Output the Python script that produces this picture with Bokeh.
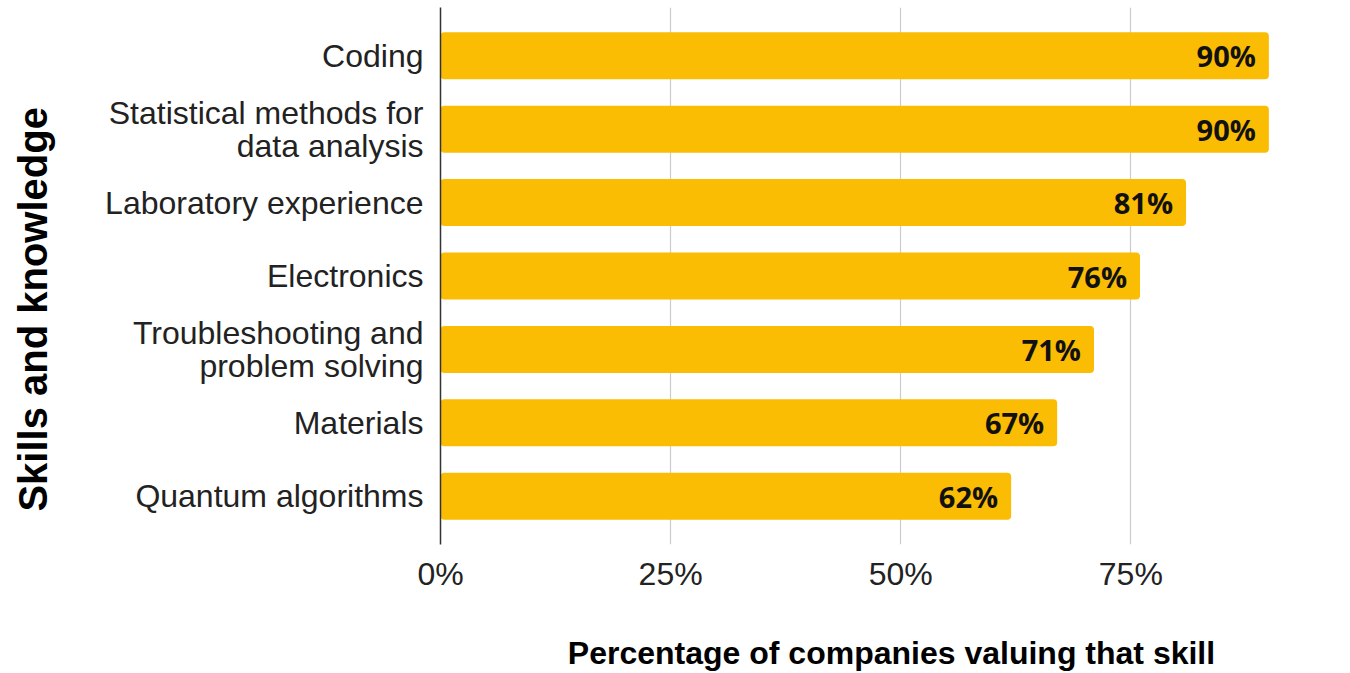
from bokeh.plotting import figure
from bokeh.models import FactorRange, Range1d, FixedTicker, PrintfTickFormatter, ColumnDataSource
from bokeh.core.properties import value
from bokeh.embed import file_html
from bokeh.resources import INLINE

skills = ["Coding", "Statistical methods for\ndata analysis", "Laboratory experience",
          "Electronics", "Troubleshooting and\nproblem solving", "Materials", "Quantum algorithms"]
percent = [90, 90, 81, 76, 71, 67, 62]
x_ticks = [0, 25, 50, 75]

labels = [f"{v}%" for v in percent]
src = ColumnDataSource(dict(skill=skills, pct=percent, label=labels))

p = figure(width=1342, height=673, output_backend="svg", toolbar_location=None,
           y_range=FactorRange(factors=list(reversed(skills)), range_padding=0.0447,
                               range_padding_units="percent"),
           x_range=Range1d(0, 98),
           min_border_left=440, min_border_right=0, min_border_top=7, min_border_bottom=128)
p.outline_line_color = None
p.background_fill_color = "white"
p.border_fill_color = "white"

p.hbar(y="skill", right="pct", left=0, height=0.64, source=src, fill_color="#FBBC04",
       line_color=None, border_radius=4)
p.text(x="pct", y="skill", text="label", source=src, x_offset=-13,
       text_align="right", text_baseline="middle", text_font=value("Open Sans"),
       text_font_style="bold", text_font_size="29px", text_color="#111111")

p.ygrid.grid_line_color = None
p.xgrid.grid_line_color = "#cccccc"
p.xgrid.grid_line_width = 1.2
p.xaxis.ticker = FixedTicker(ticks=x_ticks)
p.xaxis.formatter = PrintfTickFormatter(format="%d%%")
p.xaxis.axis_line_color = None
p.xaxis.major_tick_line_color = None
p.xaxis.minor_tick_line_color = None
p.xaxis.major_label_text_font = "Liberation Sans"
p.xaxis.major_label_text_font_size = "32px"
p.xaxis.major_label_text_color = "#222222"
p.xaxis.major_label_standoff = 5
p.xaxis.axis_label = "Percentage of companies valuing that skill"
p.xaxis.axis_label_text_font = "Liberation Sans"
p.xaxis.axis_label_text_font_style = "bold"
p.xaxis.axis_label_text_font_size = "32px"
p.xaxis.axis_label_text_color = "#000000"
p.xaxis.axis_label_standoff = 40

p.yaxis.axis_line_color = "#333333"
p.yaxis.axis_line_width = 1.5
p.yaxis.major_tick_line_color = None
p.yaxis.minor_tick_line_color = None
p.yaxis.major_label_text_font = "Liberation Sans"
p.yaxis.major_label_text_font_size = "32px"
p.yaxis.major_label_text_line_height = 0.92
p.yaxis.major_label_text_color = "#222222"
p.yaxis.major_label_standoff = 11
# trailing no-break spaces shift the centred title downward, as in the reference
p.yaxis.axis_label = "Skills and knowledge" + "\u00a0" * 6
p.yaxis.axis_label_text_font = "Liberation Sans"
p.yaxis.axis_label_text_font_style = "bold"
p.yaxis.axis_label_text_font_size = "40px"
p.yaxis.axis_label_text_color = "#000000"
p.yaxis.axis_label_standoff = 47

open("out.html", "w").write(file_html(p, INLINE))
